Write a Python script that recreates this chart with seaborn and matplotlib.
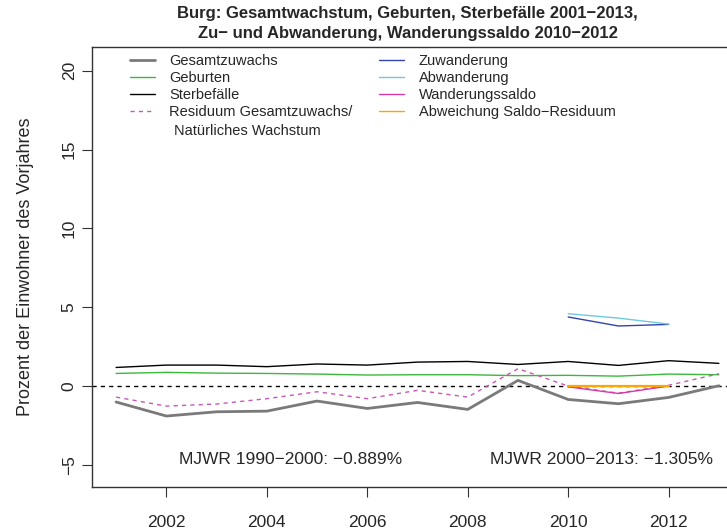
import matplotlib
matplotlib.use("Agg")
import matplotlib.pyplot as plt
import numpy as np
import pandas as pd
import seaborn as sns
from matplotlib.lines import Line2D

# Werte in Prozent der Einwohner des Vorjahres
years = list(range(2001, 2014))
gesamtzuwachs = [-1.01, -1.90, -1.63, -1.59, -0.95, -1.42, -1.04, -1.48, 0.36, -0.85, -1.12, -0.72, 0.02]
geburten = [0.80, 0.87, 0.82, 0.80, 0.76, 0.70, 0.72, 0.72, 0.66, 0.68, 0.63, 0.76, 0.72]
sterbefaelle = [1.18, 1.33, 1.33, 1.23, 1.40, 1.33, 1.52, 1.56, 1.37, 1.56, 1.31, 1.61, 1.44]
residuum = [-0.70, -1.27, -1.14, -0.80, -0.36, -0.80, -0.27, -0.70, 1.10, 0.00, -0.45, 0.05, 0.78]

years_wand = [2010, 2011, 2012]
zuwanderung = [4.38, 3.81, 3.91]
abwanderung = [4.59, 4.31, 3.93]
wanderungssaldo = [-0.05, -0.47, 0.00]
abweichung = [0.00, 0.00, 0.00]

mjwr_labels = ["MJWR 1990\u22122000: \u22120.889%", "MJWR 2000\u22122013: \u22121.305%"]

colors = {
    "Gesamtzuwachs": "#7A7A7A",
    "Geburten": "#3CB83C",
    "Sterbefälle": "#000000",
    "Residuum": "#C957B5",
    "Zuwanderung": "#3344AA",
    "Abwanderung": "#6FCADB",
    "Wanderungssaldo": "#D23AA8",
    "Abweichung": "#FFA500",
}

sns.set_style("white")
plt.rcParams["font.family"] = ["Liberation Sans", "DejaVu Sans"]

fig = plt.figure(figsize=(7.27, 5.31), dpi=100)
ax = fig.add_axes([92 / 727, 1 - 487 / 531, (743 - 92) / 727, (487 - 47) / 531])

df = pd.DataFrame({
    "year": years,
    "gesamt": gesamtzuwachs,
    "geburten": geburten,
    "sterbe": sterbefaelle,
    "resid": residuum,
})
dw = pd.DataFrame({
    "year": years_wand,
    "zu": zuwanderung,
    "ab": abwanderung,
    "saldo": wanderungssaldo,
    "abw": abweichung,
})

ax.axhline(0, color="black", lw=1.0, ls=(0, (3, 3)), zorder=1)
sns.lineplot(data=df, x="year", y="gesamt", ax=ax, color=colors["Gesamtzuwachs"], lw=2.0)
sns.lineplot(data=df, x="year", y="geburten", ax=ax, color=colors["Geburten"], lw=1.0)
sns.lineplot(data=df, x="year", y="sterbe", ax=ax, color=colors["Sterbefälle"], lw=1.0)
sns.lineplot(data=df, x="year", y="resid", ax=ax, color=colors["Residuum"], lw=1.0, ls=(0, (3, 3)))
sns.lineplot(data=dw, x="year", y="zu", ax=ax, color=colors["Zuwanderung"], lw=1.0)
sns.lineplot(data=dw, x="year", y="ab", ax=ax, color=colors["Abwanderung"], lw=1.0)
sns.lineplot(data=dw, x="year", y="saldo", ax=ax, color=colors["Wanderungssaldo"], lw=1.0)
sns.lineplot(data=dw, x="year", y="abw", ax=ax, color=colors["Abweichung"], lw=1.6)

ax.set_xlim(2000.52, 2013.48)
ax.set_ylim(-6.4, 21.5)
ax.set_xticks([2002, 2004, 2006, 2008, 2010, 2012])
ax.set_yticks([-5, 0, 5, 10, 15, 20])
ax.set_yticklabels(["\u22125", "0", "5", "10", "15", "20"], rotation=90, va="center")
ax.tick_params(axis="both", direction="out", length=7, width=0.8, color="#333333",
               labelsize=12.5, left=True, bottom=True)
ax.tick_params(axis="x", pad=13)
ax.tick_params(axis="y", pad=4)
for s in ax.spines.values():
    s.set_color("#333333")
    s.set_linewidth(1.0)
ax.set_xlabel("")
ax.set_ylabel("Prozent der Einwohner des Vorjahres", fontsize=13, labelpad=20)

ax.text(2004.47, -4.63, mjwr_labels[0], ha="center", va="center", fontsize=12.5)
ax.text(2010.66, -4.63, mjwr_labels[1], ha="center", va="center", fontsize=12.5)

fig.text(0.561, 0.988, "Burg: Gesamtwachstum, Geburten, Sterbefälle 2001\u22122013,\n"
         "Zu\u2212 und Abwanderung, Wanderungssaldo 2010\u22122012",
         ha="center", va="top", fontsize=12, fontweight="bold", linespacing=1.35)

handles = [
    Line2D([], [], color=colors["Gesamtzuwachs"], lw=2.0),
    Line2D([], [], color=colors["Geburten"], lw=1.0),
    Line2D([], [], color=colors["Sterbefälle"], lw=1.0),
    Line2D([], [], color=colors["Residuum"], lw=1.0, ls=(0, (3, 3))),
    Line2D([], [], color=colors["Zuwanderung"], lw=1.0),
    Line2D([], [], color=colors["Abwanderung"], lw=1.0),
    Line2D([], [], color=colors["Wanderungssaldo"], lw=1.0),
    Line2D([], [], color=colors["Abweichung"], lw=1.0),
]
labels = ["Gesamtzuwachs", "Geburten", "Sterbefälle", "Residuum Gesamtzuwachs/",
          "Zuwanderung", "Abwanderung", "Wanderungssaldo", "Abweichung Saldo\u2212Residuum"]
leg = ax.legend(handles, labels, ncol=2, frameon=False, loc="upper left",
                bbox_to_anchor=(0.058, 0.983), fontsize=10.5, handlelength=1.7,
                handletextpad=1.0, labelspacing=0.2, columnspacing=1.85,
                borderpad=0, borderaxespad=0)
ax.text(0.126, 0.808, "Natürliches Wachstum", transform=ax.transAxes, fontsize=10.5,
        ha="left", va="center")

fig.savefig("out.png", dpi=100)
